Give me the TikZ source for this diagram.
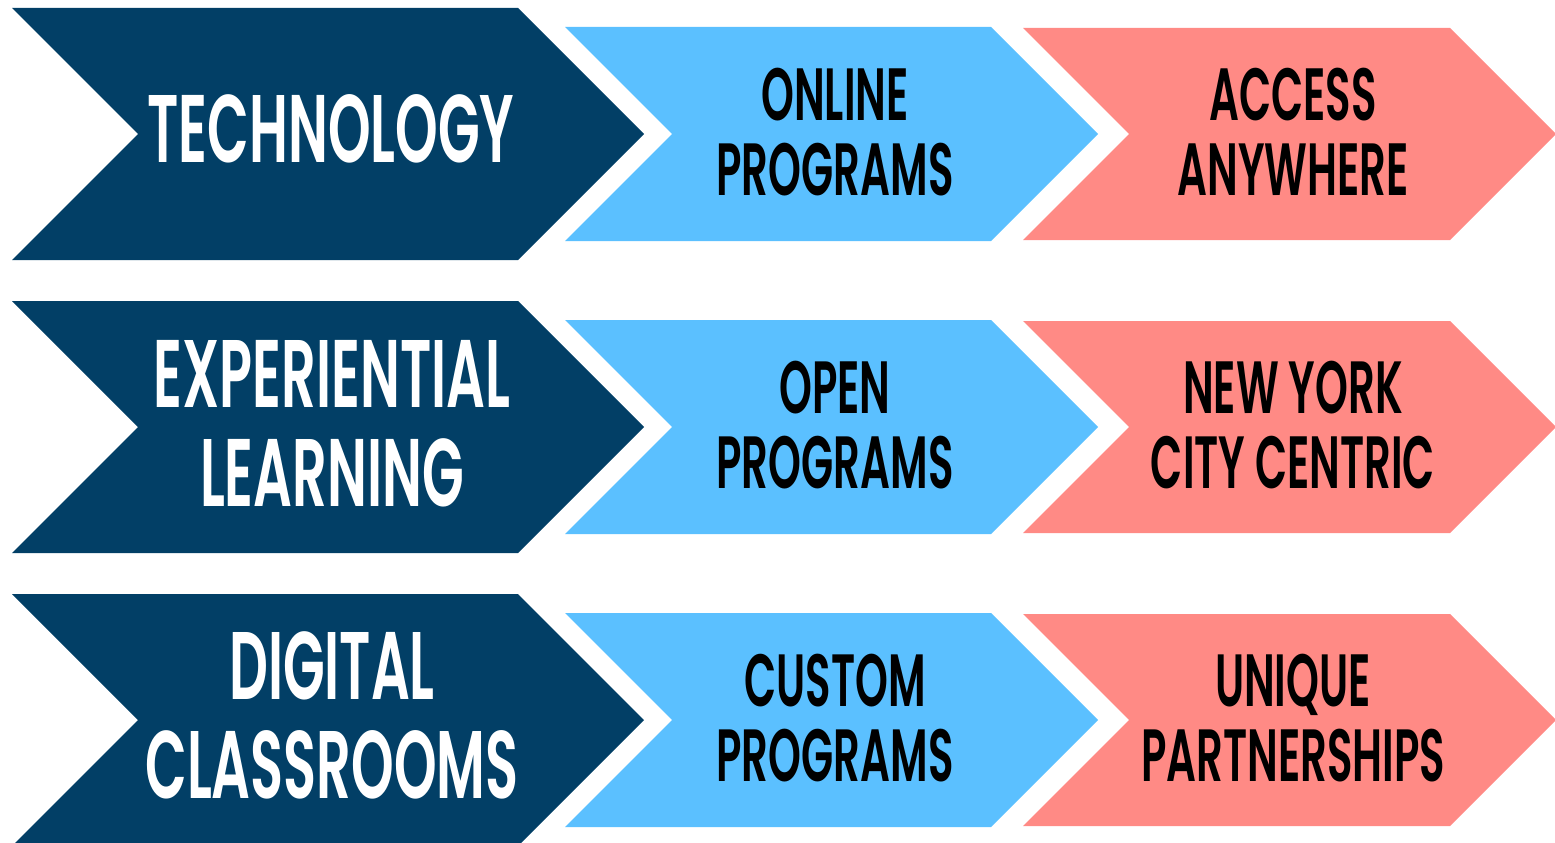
\documentclass[tikz,border=0pt]{standalone}
\usepackage{fontspec}
\IfFontExistsTF{Poppins SemiBold}
  {\setmainfont{Poppins}[FakeStretch=0.565, BoldFont={Poppins SemiBold}, BoldFeatures={FakeStretch=0.565}]}
  {\setmainfont{Poppins}[FakeStretch=0.55]}
\definecolor{navy}{HTML}{023F66}
\definecolor{sky}{HTML}{5BC0FF}
\definecolor{salmon}{HTML}{FF8A85}
\newcommand\chevron[5]{% color, left, right, center y, half height
  \fill[#1] (#2,#4-#5) -- (#3,#4-#5) -- (#3+#5,#4) -- (#3,#4+#5) -- (#2,#4+#5) -- (#2+#5,#4) -- cycle;}
\tikzset{
  bigtxt/.style={anchor=base, align=center, text=white, inner sep=0pt, font=\fontsize{96}{99}\selectfont\bfseries},
  smalltxt/.style={anchor=base, align=center, text=black, inner sep=0pt, font=\fontsize{74}{75}\selectfont\bfseries}
}
\begin{document}
\begin{tikzpicture}[x=1pt,y=-1pt]
\useasboundingbox (0,0) rectangle (1555,843);
% row 1
\chevron{navy}{12}{518}{134}{126}
\chevron{sky}{565}{991}{134}{107}
\chevron{salmon}{1023}{1450}{134}{106}
% row 2
\chevron{navy}{12}{518}{427}{126}
\chevron{sky}{565}{991}{427}{107}
\chevron{salmon}{1023}{1450}{427}{106}
% row 3
\chevron{navy}{12}{518}{720}{126}
\chevron{sky}{565}{991}{720}{107}
\chevron{salmon}{1023}{1450}{720}{106}
% texts (base anchor = baseline of last line)
\node[bigtxt] (tech) at (331,162) {TECHNOLOGY};
\node[smalltxt] (online) at (835,195) {ONLINE\\PROGRAMS};
\node[smalltxt] (access) at (1293,195) {ACCESS\\ANYWHERE};
\node[bigtxt] (exp) at (332,506) {EXPERIENTIAL\\LEARNING};
\node[smalltxt] (open) at (835,488) {OPEN\\PROGRAMS};
\node[smalltxt] (nyc) at (1293,488) {NEW YORK\\CITY CENTRIC};
\node[bigtxt] (digital) at (332,798) {DIGITAL\\CLASSROOMS};
\node[smalltxt] (custom) at (835,781) {CUSTOM\\PROGRAMS};
\node[smalltxt] (unique) at (1293,781) {UNIQUE\\PARTNERSHIPS};
\end{tikzpicture}
\end{document}
